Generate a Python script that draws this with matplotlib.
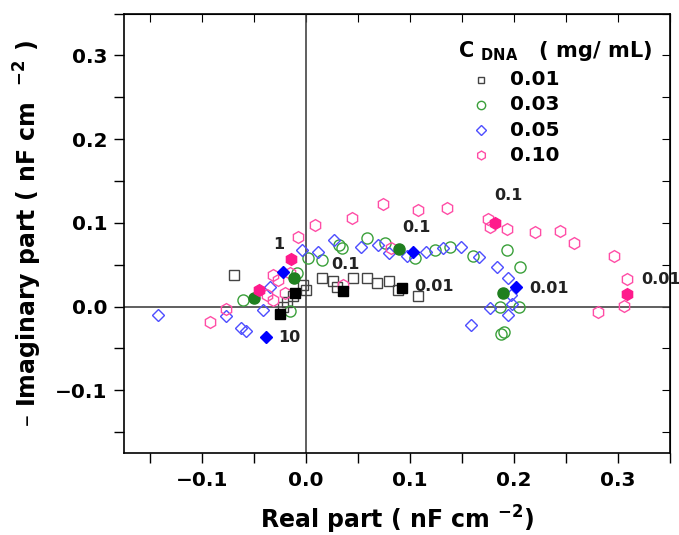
import matplotlib.pyplot as plt
from matplotlib.ticker import MultipleLocator

# C_DNA = 0.01 mg/mL  (open squares, filled = marked frequencies)
blk_x = [-0.069, -0.022, -0.018, -0.0125, -0.003, 0.0, 0.0154, 0.026, 0.030, 0.045, 0.0587, 0.068, 0.080, 0.0885, 0.108]
blk_y = [0.038, -0.001, 0.005, 0.013, 0.026, 0.020, 0.034, 0.030, 0.023, 0.034, 0.034, 0.028, 0.031, 0.020, 0.013]
blk_fx = [-0.025, -0.0106, 0.0356, 0.0923]
blk_fy = [-0.0095, 0.0166, 0.019, 0.0226]

# 0.03 mg/mL
grn_x = [-0.0606, -0.0154, -0.0087, 0.0019, 0.0154, 0.0317, 0.0346, 0.0587, 0.076, 0.1048, 0.124, 0.1385, 0.1606, 0.1933, 0.2058, 0.1865, 0.2048, 0.1875, 0.1904]
grn_y = [0.0083, -0.0059, 0.0404, 0.0582, 0.0558, 0.0736, 0.0701, 0.0819, 0.076, 0.0582, 0.0677, 0.0713, 0.0606, 0.0677, 0.0475, 0.0, 0.0, -0.0333, -0.0309]
grn_fx = [-0.05, -0.0115, 0.0894, 0.1894]
grn_fy = [0.0107, 0.0344, 0.0689, 0.0166]

# 0.05 mg/mL
blu_x = [-0.1423, -0.0769, -0.0625, -0.0577, -0.0413, -0.0346, -0.0038, 0.0115, 0.0269, 0.0529, 0.0692, 0.0798, 0.0971, 0.1154, 0.1317, 0.149, 0.1663, 0.1837, 0.1942, 0.1971, 0.1981, 0.1769, 0.1942, 0.1587]
blu_y = [-0.0107, -0.0119, -0.0261, -0.0297, -0.0036, 0.0238, 0.0677, 0.0653, 0.0796, 0.0713, 0.0736, 0.0641, 0.0606, 0.0653, 0.0701, 0.0713, 0.0594, 0.0475, 0.0344, 0.0143, 0.0036, -0.0012, -0.0107, -0.0226]
blu_fx = [-0.0385, -0.0221, 0.1029, 0.2019]
blu_fy = [-0.0368, 0.0416, 0.0653, 0.0238]

# 0.10 mg/mL
pnk_x = [-0.0923, -0.0769, -0.0375, -0.0317, -0.0269, -0.0317, -0.0202, -0.0154, -0.0077, 0.0087, 0.0442, 0.074, 0.1077, 0.1356, 0.175, 0.1769, 0.1933, 0.2202, 0.2442, 0.2577, 0.2962, 0.3087, 0.3058, 0.2808, 0.0817, 0.0356]
pnk_y = [-0.019, -0.0024, 0.0143, 0.0083, 0.0321, 0.038, 0.0166, 0.0404, 0.0831, 0.0974, 0.1057, 0.1223, 0.1152, 0.1176, 0.1045, 0.095, 0.0926, 0.0891, 0.0903, 0.076, 0.0606, 0.0333, 0.0012, -0.0071, 0.0701, 0.0261]
pnk_fx = [-0.0452, -0.0144, 0.1817, 0.3087]
pnk_fy = [0.0202, 0.057, 0.0998, 0.0154]

freq_labels = ['10', '1', '0.1', '0.1', '0.1', '0.01', '0.01', '0.01']
freq_lx = [-0.027, -0.032, 0.024, 0.093, 0.181, 0.104, 0.215, 0.322]
freq_ly = [-0.037, 0.074, 0.050, 0.094, 0.133, 0.024, 0.022, 0.032]

legend_labels = ['0.01', '0.03', '0.05', '0.10']
tick_vals = [-0.1, 0.0, 0.1, 0.2, 0.3]
tick_text = ['\u22120.1', '0.0', '0.1', '0.2', '0.3']

plt.rcParams['font.family'] = 'DejaVu Sans'

fig = plt.figure(figsize=(6.79, 5.35), dpi=100)
ax = fig.add_axes([0.1826, 0.1533, 0.8041, 0.8213])

ax.axhline(0, color='#444444', lw=1.2, zorder=1)
ax.axvline(0, color='#444444', lw=1.2, zorder=1)

series = [
    (blk_x, blk_y, blk_fx, blk_fy, 's', 6.5, '#444444', '#000000'),
    (grn_x, grn_y, grn_fx, grn_fy, 'o', 8, '#3aa03a', '#1f7f1f'),
    (blu_x, blu_y, blu_fx, blu_fy, 'D', 6.5, '#4d4dff', '#0000ff'),
    (pnk_x, pnk_y, pnk_fx, pnk_fy, 'h', 8.5, '#ff4da6', '#ff1a8c'),
]
for x, y, fx, fy, m, ms, ec, fc in series:
    ax.plot(x, y, ls='none', marker=m, ms=ms, mfc='none', mec=ec, mew=1.0, zorder=3)
    ax.plot(fx, fy, ls='none', marker=m, ms=ms, mfc=fc, mec=fc, mew=1.0, zorder=4)

for t, lx, ly in zip(freq_labels, freq_lx, freq_ly):
    ax.text(lx, ly, t, fontsize=11.5, fontweight='bold', color='#222222',
            va='center', ha='left', clip_on=False, zorder=5)

# legend drawn by hand so the title and rows sit like the original
ax.text(0.612, 0.915, r'C $_{\mathregular{DNA}}$   ( mg/ mL)', transform=ax.transAxes,
        fontsize=15, fontweight='bold', ha='left', va='center')
leg_rows = [0.849, 0.792, 0.735, 0.678]
for (x, y, fx, fy, m, ms, ec, fc), lab, ry in zip(series, legend_labels, leg_rows):
    ax.plot([0.654], [ry], transform=ax.transAxes, ls='none', marker=m, ms=ms * 0.75,
            mfc='none', mec=ec, mew=1.0, clip_on=False)
    ax.text(0.707, ry, lab, transform=ax.transAxes, fontsize=14.5, fontweight='bold',
            ha='left', va='center')

ax.set_xlim(-0.175, 0.35)
ax.set_ylim(-0.175, 0.35)
ax.xaxis.set_minor_locator(MultipleLocator(0.05))
ax.yaxis.set_minor_locator(MultipleLocator(0.05))
ax.set_xticks(tick_vals)
ax.set_xticklabels(tick_text, fontweight='bold')
ax.set_yticks(tick_vals)
ax.set_yticklabels(tick_text, fontweight='bold')
ax.tick_params(which='both', direction='out', length=7, width=1, top=False, right=False)
ax.tick_params(axis='x', labelsize=14.5, pad=6)
ax.tick_params(axis='y', labelsize=14.5, pad=5)

sec_y = ax.secondary_yaxis('right')
sec_y.yaxis.set_major_locator(MultipleLocator(0.05))
sec_y.tick_params(direction='in', length=6, labelright=False)
sec_x = ax.secondary_xaxis('top')
sec_x.xaxis.set_major_locator(MultipleLocator(0.05))
sec_x.tick_params(direction='in', length=6, labeltop=False)

for s in ax.spines.values():
    s.set_linewidth(1.2)

ax.set_xlabel(r'Real part ( nF cm $^{\mathregular{-2}}$)', fontsize=17, fontweight='bold', labelpad=10)
ax.set_ylabel('\u2013 Imaginary part ( nF cm  $^{\\mathregular{-2}}$ )',
              fontsize=17, fontweight='bold', labelpad=8)

fig.savefig('out.png', dpi=100)
